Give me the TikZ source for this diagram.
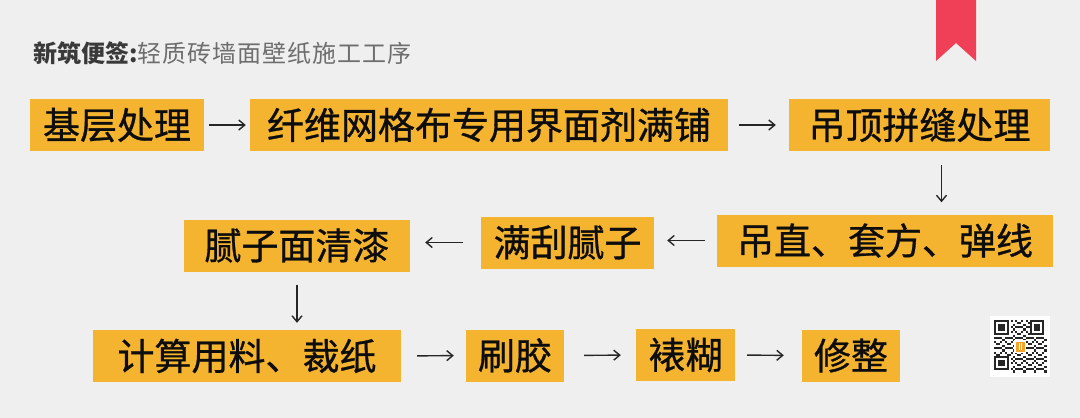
\documentclass[tikz,border=0pt]{standalone}
\usepackage{fontspec}
\usetikzlibrary{arrows.meta}
\setmainfont{Noto Sans CJK SC}
\newfontfamily\stepfont{Noto Sans CJK SC}[FakeBold=0.8]
\definecolor{bgcolor}{RGB}{239,239,239}
\definecolor{boxcolor}{RGB}{245,180,48}
\definecolor{ribboncolor}{RGB}{240,64,88}
\definecolor{titledark}{RGB}{58,58,58}
\definecolor{titlegray}{RGB}{110,110,110}

\begin{document}
\begin{tikzpicture}[x=1pt,y=-1pt]
        \tikzset{stepbox/.style={fill=boxcolor, text=black!95, inner sep=0pt, minimum height=52pt, font=\stepfont\fontsize{37}{37}\selectfont},
                 flow/.style={-{Straight Barb[length=6pt,width=10pt]}, line width=1.4pt, black!85}}

        % background and frame
        \fill[bgcolor] (0,0) rectangle (1080,418);
        \useasboundingbox (0,0) rectangle (1080,418);
        \fill[ribboncolor] (936,0)--(976,0)--(976,61)--(956,43)--(936,61)--cycle;

        \node [anchor=west, font=\fontsize{24}{24}\selectfont] (title) at (30,53)
              {\textcolor{titledark}{\bfseries 新筑便签:}\textcolor{titlegray}{\addfontfeature{LetterSpace=4}轻质砖墙面壁纸施工工序}};

        % first row
        \node [stepbox, minimum width=174pt] (base) at (117,125) {基层处理};
        \node [stepbox, minimum width=478pt] (mesh) at (489,125) {纤维网格布专用界面剂满铺};
        \node [stepbox, minimum width=261pt] (seam) at (919.5,125) {吊顶拼缝处理};
        % second row
        \node [stepbox, minimum width=336pt] (plumb) at (885,240.5) {吊直、套方、弹线};
        \node [stepbox, minimum width=173pt] (putty) at (567.5,242.5) {满刮腻子};
        \node [stepbox, minimum width=226pt] (varnish) at (297,245.5) {腻子面清漆};
        % third row
        \node [stepbox, minimum width=308pt] (cut) at (247,356) {计算用料、裁纸};
        \node [stepbox, minimum width=98pt] (glue) at (515,355.5) {刷胶};
        \node [stepbox, minimum width=99pt] (paste) at (685.5,355) {裱糊};
        \node [stepbox, minimum width=98pt] (trim) at (851,355.5) {修整};

        \draw [flow, shorten <=5pt, shorten >=4pt] (base.east) -- (mesh.west);
        \draw [flow, shorten <=11pt, shorten >=13pt] (mesh.east) -- (seam.west);
        \draw [flow, shorten <=14pt, shorten >=12pt] ([xshift=22pt]seam.south) -- ([xshift=22pt]seam.south |- plumb.north);
        \draw [flow, shorten <=12pt, shorten >=13pt] (plumb.west) -- (plumb.west -| putty.east);
        \draw [flow, shorten <=18pt, shorten >=15pt] (putty.west) -- (putty.west -| varnish.east);
        \draw [flow, shorten <=13pt, shorten >=7pt] (varnish.south) -- (varnish.south |- cut.north);
        \draw [flow, shorten <=16pt, shorten >=12pt] (cut.east) -- (glue.west);
        \draw [flow, shorten <=20pt, shorten >=15pt] (glue.east) -- (paste.west);
        \draw [flow, shorten <=12pt, shorten >=18pt] (paste.east) -- (trim.west);

        % qr code
        \fill[white] (990,316) rectangle (1050,377);
        \foreach \i in {0,...,24}
          \foreach \j in {0,...,24} {
            \pgfmathtruncatemacro\qrfind{(\i<8 && \j<8) || (\i>16 && \j<8) || (\i<8 && \j>16)}
            \pgfmathtruncatemacro\qrbit{mod(\i*\i*3+\j*7+\i*\j*5+\i,5)}
            \ifnum\qrfind=0 \ifnum\qrbit<2
              \fill[black!85] (994+2.1*\i,320+2.1*\j) rectangle ++(2.1,2.1);
            \fi\fi
          }
        \foreach \px/\py in {994/320, 1029.7/320, 994/355.7} {
          \fill[black!85] (\px,\py) rectangle ++(14.7,14.7);
          \fill[white] (\px+2.1,\py+2.1) rectangle ++(10.5,10.5);
          \fill[black!85] (\px+4.2,\py+4.2) rectangle ++(6.3,6.3);
        }
        \fill[white] (1014,340) rectangle (1026,353);
        \fill[boxcolor!90!red] (1015.5,341.5) rectangle (1024.5,351.5);
        \fill[white] (1018.5,343) rectangle (1019.5,350);
        \fill[white] (1020.5,343) rectangle (1021.5,350);
    \end{tikzpicture}
\end{document}
